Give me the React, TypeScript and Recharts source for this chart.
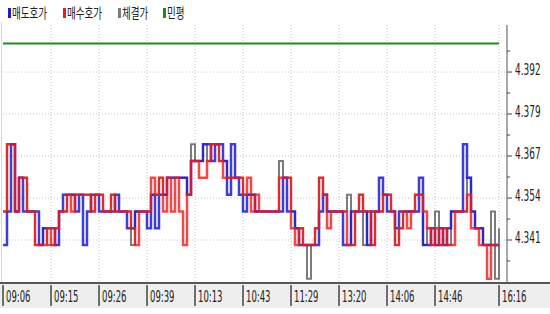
import { LineChart, Line, XAxis, YAxis, CartesianGrid } from "recharts";

// 매도호가 / 매수호가 / 체결가, one value per sample
const ASK = [
  4.34, 4.35, 4.37, 4.35, 4.36, 4.35, 4.35, 4.35, 4.35, 4.34,
  4.345, 4.345, 4.345, 4.34, 4.35, 4.355, 4.355, 4.355, 4.35, 4.355,
  4.34, 4.35, 4.355, 4.355, 4.35, 4.35, 4.35, 4.35, 4.355, 4.35,
  4.35, 4.345, 4.345, 4.35, 4.35, 4.35, 4.345, 4.355, 4.345, 4.355,
  4.355, 4.36, 4.36, 4.36, 4.36, 4.36, 4.355, 4.365, 4.365, 4.365,
  4.37, 4.37, 4.365, 4.37, 4.37, 4.365, 4.355, 4.37, 4.36, 4.355,
  4.35, 4.355, 4.355, 4.35, 4.35, 4.35, 4.35, 4.35, 4.35, 4.35,
  4.36, 4.35, 4.35, 4.345, 4.34, 4.34, 4.34, 4.34, 4.34, 4.35,
  4.355, 4.35, 4.35, 4.35, 4.35, 4.34, 4.34, 4.35, 4.35, 4.35,
  4.35, 4.34, 4.35, 4.35, 4.36, 4.355, 4.35, 4.35, 4.345, 4.35,
  4.35, 4.35, 4.35, 4.35, 4.36, 4.34, 4.34, 4.345, 4.34, 4.345,
  4.34, 4.345, 4.35, 4.35, 4.35, 4.37, 4.36, 4.35, 4.345, 4.345,
  4.34, 4.34, 4.34, 4.34, 4.34,
];
const BID = [
  4.35, 4.37, 4.37, 4.35, 4.36, 4.36, 4.35, 4.35, 4.34, 4.34,
  4.34, 4.345, 4.34, 4.345, 4.35, 4.35, 4.355, 4.35, 4.355, 4.355,
  4.355, 4.355, 4.35, 4.355, 4.355, 4.35, 4.35, 4.355, 4.35, 4.35,
  4.35, 4.35, 4.345, 4.34, 4.35, 4.35, 4.35, 4.36, 4.355, 4.36,
  4.35, 4.36, 4.35, 4.36, 4.35, 4.34, 4.355, 4.365, 4.365, 4.36,
  4.36, 4.365, 4.37, 4.37, 4.365, 4.36, 4.36, 4.36, 4.36, 4.36,
  4.355, 4.36, 4.35, 4.355, 4.35, 4.35, 4.35, 4.35, 4.35, 4.36,
  4.36, 4.36, 4.345, 4.34, 4.345, 4.34, 4.34, 4.34, 4.345, 4.36,
  4.355, 4.345, 4.35, 4.35, 4.35, 4.35, 4.34, 4.34, 4.35, 4.355,
  4.35, 4.35, 4.34, 4.35, 4.35, 4.355, 4.355, 4.35, 4.34, 4.345,
  4.35, 4.345, 4.35, 4.355, 4.355, 4.35, 4.345, 4.34, 4.345, 4.34,
  4.345, 4.34, 4.34, 4.35, 4.35, 4.35, 4.355, 4.345, 4.345, 4.34,
  4.34, 4.33, 4.34, 4.34, 4.34,
];
const LAST = [
  4.35, 4.37, 4.37, 4.35, 4.36, 4.36, 4.35, 4.35, 4.34, 4.34,
  4.345, 4.34, 4.34, 4.345, 4.35, 4.35, 4.355, 4.355, 4.355, 4.355,
  4.355, 4.355, 4.35, 4.355, 4.355, 4.35, 4.35, 4.355, 4.35, 4.35,
  4.35, 4.35, 4.34, 4.35, 4.35, 4.35, 4.35, 4.355, 4.355, 4.36,
  4.355, 4.36, 4.36, 4.36, 4.36, 4.36, 4.355, 4.37, 4.365, 4.365,
  4.37, 4.365, 4.37, 4.37, 4.365, 4.365, 4.36, 4.36, 4.36, 4.36,
  4.355, 4.355, 4.355, 4.35, 4.35, 4.35, 4.35, 4.35, 4.35, 4.365,
  4.36, 4.36, 4.35, 4.345, 4.345, 4.34, 4.33, 4.34, 4.345, 4.36,
  4.355, 4.35, 4.35, 4.35, 4.35, 4.35, 4.355, 4.34, 4.35, 4.355,
  4.34, 4.35, 4.34, 4.35, 4.35, 4.355, 4.355, 4.35, 4.34, 4.345,
  4.35, 4.35, 4.35, 4.355, 4.355, 4.34, 4.345, 4.34, 4.35, 4.34,
  4.345, 4.34, 4.35, 4.35, 4.35, 4.35, 4.36, 4.35, 4.345, 4.345,
  4.34, 4.34, 4.35, 4.33, 4.345,
];
const MINPYEONG = 4.4;

const TIME_TICKS = [0, 12, 24, 36, 48, 60, 72, 84, 96, 108, 124];
const TIME_LABELS = ["09:06", "09:15", "09:26", "09:39", "10:13", "10:43", "11:29", "13:20", "14:06", "14:46", "16:16"];

const Y_MAJOR = [4.3415, 4.354, 4.3665, 4.379, 4.3915];
const Y_LABELS = ["4.341", "4.354", "4.367", "4.379", "4.392"];
const Y_MINOR = [4.33525, 4.34775, 4.36025, 4.37275, 4.38525, 4.39775];
const Y_DOMAIN = [4.3287, 4.4055];

const data = ASK.map((a, i) => ({ i, ask: a, bid: BID[i], last: LAST[i], mp: MINPYEONG }));

const BLUE = "#1c1cd0";
const RED = "#ee1b1b";
const GRAY = "#7c7c7c";
const GREEN = "#1f8a1f";

const LEGEND = [
  { label: "매도호가", color: BLUE, x: 8 },
  { label: "매수호가", color: RED, x: 63 },
  { label: "체결가", color: GRAY, x: 118 },
  { label: "민평", color: GREEN, x: 163 },
];

// narrow bitmap-like text: draw normally, squeeze horizontally
const Narrow = ({ x, y, size, sx, children, family }: any) => (
  <text
    transform={`translate(${x},${y}) scale(${sx},1)`}
    fontSize={size}
    fill="#222"
    fontFamily={family || "'DejaVu Sans', sans-serif"}
  >
    {children}
  </text>
);

const TimeTick = ({ x, y, payload }: any) => {
  const k = TIME_TICKS.indexOf(payload.value);
  return (
    <g>
      <line x1={x} x2={x} y1={y + 2} y2={y + 23} stroke="#444" strokeWidth={1.5} />
      <Narrow x={x + 3} y={y + 19} size={16} sx={0.53}>
        {TIME_LABELS[k]}
      </Narrow>
    </g>
  );
};

const PriceTick = ({ x, y, payload }: any) => {
  const k = Y_MAJOR.indexOf(payload.value);
  if (k < 0) {
    return <line x1={x} x2={x + 3} y1={y} y2={y} stroke="#444" />;
  }
  return (
    <g>
      <line x1={x} x2={x + 5} y1={y} y2={y} stroke="#444" />
      <Narrow x={x + 8} y={y + 3} size={16} sx={0.56}>
        {Y_LABELS[k]}
      </Narrow>
    </g>
  );
};

export default function App() {
  return (
    <div style={{ position: "absolute", left: 0, top: 0, width: 550, height: 314, background: "#fff", fontFamily: "'DejaVu Sans', sans-serif" }}>
      <div style={{ position: "absolute", left: 0, top: 282, width: 550, height: 24, background: "#eeeeee", borderTop: "2px solid #555" }} />
      <div style={{ position: "absolute", left: 1, top: 22, width: 1, height: 260, background: "#d8d8d8" }} />
      <div style={{ position: "absolute", left: 0, top: 0 }}>
        <LineChart width={550} height={314} data={data} margin={{ top: 25, right: 0, bottom: 6, left: 3 }}>
          <CartesianGrid
            stroke="#c4c4c4"
            strokeDasharray="1 2"
            horizontalValues={Y_MAJOR}
            verticalValues={TIME_TICKS.slice(1)}
          />
          <XAxis
            dataKey="i"
            type="number"
            domain={[0, 124]}
            ticks={TIME_TICKS}
            interval={0}
            axisLine={false}
            tickLine={false}
            tickSize={0}
            tickMargin={0}
            height={25}
            padding={{ left: 0, right: 8 }}
            tick={<TimeTick />}
          />
          <YAxis
            orientation="right"
            type="number"
            domain={Y_DOMAIN}
            ticks={[...Y_MAJOR, ...Y_MINOR].sort()}
            interval={0}
            allowDataOverflow
            width={43}
            axisLine={{ stroke: "#555" }}
            tickLine={false}
            tickSize={0}
            tickMargin={0}
            tick={<PriceTick />}
          />
          <Line dataKey="mp" type="linear" stroke={GREEN} strokeWidth={2} dot={false} isAnimationActive={false} />
          <Line dataKey="last" type="stepAfter" stroke={GRAY} strokeWidth={2} dot={false} isAnimationActive={false} />
          <Line dataKey="ask" type="stepAfter" stroke={BLUE} strokeWidth={2.5} strokeOpacity={0.85} dot={false} isAnimationActive={false} />
          <Line dataKey="bid" type="stepAfter" stroke={RED} strokeWidth={2.5} strokeOpacity={0.8} dot={false} isAnimationActive={false} />
        </LineChart>
      </div>
      <svg width={200} height={24} style={{ position: "absolute", left: 0, top: 0 }}>
        {LEGEND.map((it) => (
          <g key={it.label}>
            <rect x={it.x} y={8} width={3} height={10} fill={it.color} />
            <Narrow x={it.x + 4} y={18} size={14} sx={0.68} family="'Noto Sans CJK KR', sans-serif">
              {it.label}
            </Narrow>
          </g>
        ))}
      </svg>
    </div>
  );
}
